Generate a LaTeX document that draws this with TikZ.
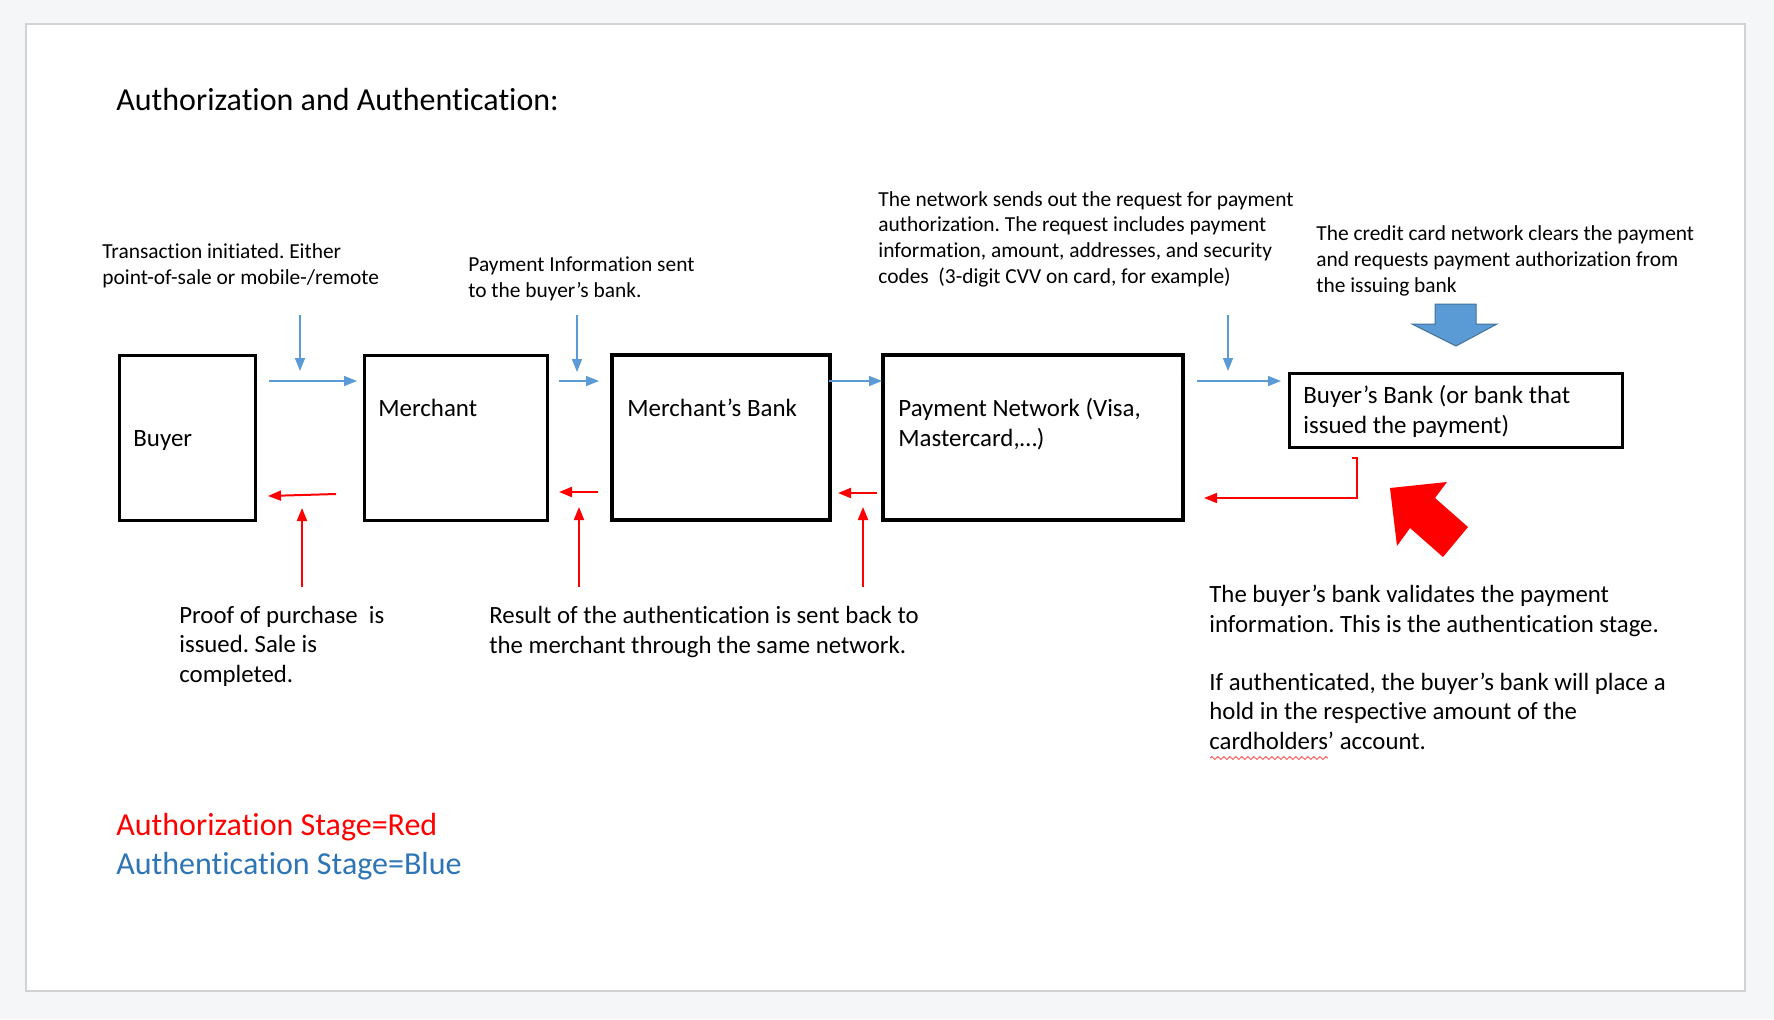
\documentclass[tikz,border=0pt]{standalone}
\usepackage{fontspec}
\setmainfont{Carlito}[Ligatures=CommonOff]
\usetikzlibrary{arrows.meta,decorations.pathmorphing}
\definecolor{ablue}{HTML}{5B9BD5}
\definecolor{abluedark}{HTML}{41719C}
\definecolor{ared}{HTML}{FF0000}
\definecolor{legblue}{HTML}{2E75B6}
\definecolor{bgcol}{HTML}{F5F6F8}
\definecolor{pageline}{HTML}{D2D2D2}
\frenchspacing
\begin{document}
\begin{tikzpicture}[x=0.5pt,y=-0.5pt,
  boxthin/.style={draw=black, line width=1.5pt, inner sep=0pt, minimum height=82.5pt},
  boxthick/.style={draw=black, line width=2pt, inner sep=0pt, minimum height=82.5pt},
  lbl/.style={anchor=base west, inner sep=0pt, align=left, font=\fontsize{12.45pt}{15pt}\selectfont},
  note/.style={anchor=base west, inner sep=0pt, align=left, font=\fontsize{10.7pt}{12.8pt}\selectfont},
  bignote/.style={anchor=base west, inner sep=0pt, align=left, font=\fontsize{12.4pt}{14.75pt}\selectfont},
  legend/.style={anchor=base west, inner sep=0pt, font=\fontsize{16pt}{19.5pt}\selectfont},
  bluearrow/.style={draw=ablue, line width=0.75pt, -{Triangle[length=6.5pt,width=5pt]}},
  redarrow/.style={draw=ared, line width=1pt, -{Triangle[length=6.5pt,width=5pt]}}
]
% canvas and page
\fill[bgcol] (0,0) rectangle (1774,1019);
\useasboundingbox (0,0) rectangle (1774,1019);
\filldraw[fill=white, draw=pageline, line width=1.2pt] (26,24) rectangle (1745,991);

% title
\node[anchor=base west, inner sep=0pt, font=\fontsize{16pt}{19pt}\selectfont] (title) at (116,110) {Authorization and Authentication:};

% boxes
\node[boxthin, minimum width=68pt] (buyer) at (187,437.5) {};
\node[boxthin, minimum width=91.5pt] (merchant) at (455.5,437.5) {};
\node[boxthick, minimum width=109pt] (mbank) at (721,437.5) {};
\node[boxthick, minimum width=150pt] (pnet) at (1033,437.5) {};
\node[boxthin, minimum width=166.5pt, minimum height=37pt] (bbank) at (1455.5,410) {};

% box labels (base anchor = baseline of the last line)
\node[lbl] (buyerT) at (133,446) {Buyer};
\node[lbl] (merchantT) at (378,416) {Merchant};
\node[lbl] (mbankT) at (627,416) {Merchant’s Bank};
\node[lbl] (pnetT) at (898,446) {Payment Network (Visa,\\Mastercard,…)};
\node[lbl] (bbankT) at (1303,433) {Buyer’s Bank (or bank that\\issued the payment)};

% top notes
\node[note] (transT) at (102,284) {Transaction initiated. Either\\point-of-sale or mobile-/remote};
\node[note] (payinfoT) at (468,297) {Payment Information sent\\to the buyer’s bank.};
\node[note] (networkT) at (878,283) {The network sends out the request for payment\\authorization. The request includes payment\\information, amount, addresses, and security\\codes\ \ (3-digit CVV on card, for example)};
\node[note] (creditT) at (1316,292) {The credit card network clears the payment\\and requests payment authorization from\\the issuing bank};

% bottom notes
\node[bignote] (proofT) at (179,682) {Proof of purchase\ \ is\\issued. Sale is\\completed.};
\node[bignote] (resultT) at (489,653) {Result of the authentication is sent back to\\the merchant through the same network.};
\node[bignote] (validT) at (1209,632) {The buyer’s bank validates the payment\\information. This is the authentication stage.};
\node[bignote] (ifauthT) at (1209,749) {If authenticated, the buyer’s bank will place a\\hold in the respective amount of the\\cardholders’ account.};
\draw[ared!75, line width=0.4pt, decorate, decoration={snake, amplitude=0.7pt, segment length=3pt}] (1210,758) -- (1328,758);

% legend
\node[legend, text=ared] (legRed) at (116,835) {Authorization Stage=Red};
\node[legend, text=legblue] (legBlue) at (116,874) {Authentication Stage=Blue};

% connector end points
\coordinate (b1s) at (300,315); \coordinate (b1e) at (300,371);
\coordinate (h1s) at (269,381); \coordinate (h1e) at (357,381);
\coordinate (b2s) at (577,315); \coordinate (b2e) at (577,372);
\coordinate (h2s) at (559,381); \coordinate (h2e) at (599,381);
\coordinate (h3s) at (829,381); \coordinate (h3e) at (882,381);
\coordinate (b4s) at (1228,315); \coordinate (b4e) at (1228,371);
\coordinate (h4s) at (1197,381); \coordinate (h4e) at (1281,381);

\coordinate (r1s) at (336,494); \coordinate (r1e) at (268,496);
\coordinate (u1s) at (302,587); \coordinate (u1e) at (302,508);
\coordinate (r2s) at (598,492); \coordinate (r2e) at (559,492);
\coordinate (u2s) at (579,587); \coordinate (u2e) at (579,507);
\coordinate (r3s) at (877,493); \coordinate (r3e) at (838,493);
\coordinate (u3s) at (863,587); \coordinate (u3e) at (863,507);
\coordinate (r4s) at (1352,458); \coordinate (r4a) at (1357,458);
\coordinate (r4b) at (1357,498); \coordinate (r4e) at (1204,498);

% blue (authentication) arrows
\draw[bluearrow] (b1s) -- (b1e);
\draw[bluearrow] (h1s) -- (h1e);
\draw[bluearrow] (b2s) -- (b2e);
\draw[bluearrow] (h2s) -- (h2e);
\draw[bluearrow] (h3s) -- (h3e);
\draw[bluearrow] (b4s) -- (b4e);
\draw[bluearrow] (h4s) -- (h4e);

% red (authorization) arrows
\draw[redarrow] (r1s) -- (r1e);
\draw[redarrow] (u1s) -- (u1e);
\draw[redarrow] (r2s) -- (r2e);
\draw[redarrow] (u2s) -- (u2e);
\draw[redarrow] (r3s) -- (r3e);
\draw[redarrow] (u3s) -- (u3e);
\draw[redarrow, line width=0.8pt] (r4s) -- (r4a) -- (r4b) -- (r4e);

% block arrows
\filldraw[fill=ablue, draw=abluedark, line width=0.5pt, line join=miter]
  (1435,304) -- (1476,304) -- (1476,324) -- (1497,324) -- (1456,346) -- (1412,324) -- (1435,324) -- cycle;
\fill[ared] (1390,488) -- (1447,482) -- (1435,498) -- (1468,527) -- (1443,557) -- (1410,528) -- (1397,546) -- cycle;
\end{tikzpicture}
\end{document}
